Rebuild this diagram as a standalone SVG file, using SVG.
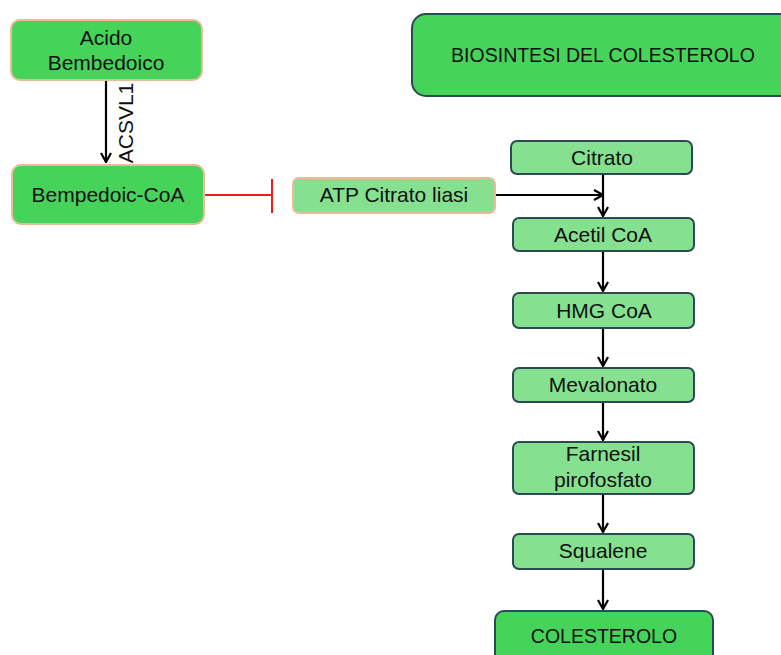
<svg xmlns="http://www.w3.org/2000/svg" width="781" height="655" viewBox="0 0 781 655">
<defs>
<style>
.t{font-family:"Liberation Sans",Arial,sans-serif;font-size:21px;fill:#111;text-anchor:middle}
.cap{font-size:19.5px}
.dk{fill:#46d35a;stroke:#f0b898;stroke-width:2}
.lt{fill:#85e08f;stroke:#2b4a52;stroke-width:2}
.lto{fill:#85e08f;stroke:#f0b898;stroke-width:2}
.dkb{fill:#46d35a;stroke:#2b4a52;stroke-width:2}
.c{stroke:#000;stroke-width:2.2;fill:none}
</style>
<marker id="ah" viewBox="0 0 12 12" refX="11" refY="6" markerWidth="12" markerHeight="12" orient="auto" markerUnits="userSpaceOnUse">
<path d="M2,1 L11,6 L2,11" fill="none" stroke="#000" stroke-width="2.2"/>
</marker>
</defs>
<rect width="781" height="655" fill="#fff"/>
<g id="connectors">
<line class="c" x1="106" y1="81" x2="106" y2="162" marker-end="url(#ah)"/>
<text class="t" transform="translate(133,123) rotate(-90)" font-size="17">ACSVL1</text>
<line x1="205" y1="195" x2="272" y2="195" stroke="#ee1c1c" stroke-width="2"/>
<line x1="272" y1="179" x2="272" y2="213" stroke="#ee1c1c" stroke-width="2"/>
<line class="c" x1="495" y1="195" x2="603" y2="195" marker-end="url(#ah)"/>
<line class="c" x1="603" y1="174" x2="603" y2="216" marker-end="url(#ah)"/>
<line class="c" x1="603" y1="252" x2="603" y2="291" marker-end="url(#ah)"/>
<line class="c" x1="603" y1="329" x2="603" y2="366" marker-end="url(#ah)"/>
<line class="c" x1="603" y1="403" x2="603" y2="440" marker-end="url(#ah)"/>
<line class="c" x1="603" y1="495" x2="603" y2="532" marker-end="url(#ah)"/>
<line class="c" x1="603" y1="570" x2="603" y2="609" marker-end="url(#ah)"/>
</g>
<g id="acido">
<rect class="dk" x="11" y="20" width="191" height="60" rx="9"/>
<text class="t" x="106" y="45">Acido</text>
<text class="t" x="106" y="70">Bembedoico</text>
</g>
<g id="bempedoic">
<rect class="dk" x="12" y="165" width="192" height="59" rx="9"/>
<text class="t" x="108" y="202">Bempedoic-CoA</text>
</g>
<g id="atp">
<rect class="lto" x="293" y="178" width="202" height="35" rx="6"/>
<text class="t" x="394" y="202">ATP Citrato liasi</text>
</g>
<g id="biosintesi">
<rect class="dkb" x="412" y="14" width="390" height="82" rx="14"/>
<text class="t cap" x="603" y="62">BIOSINTESI DEL COLESTEROLO</text>
</g>
<g id="citrato">
<rect class="lt" x="511" y="141" width="181" height="33" rx="6"/>
<text class="t" x="602" y="165">Citrato</text>
</g>
<g id="acetil">
<rect class="lt" x="513" y="218" width="181" height="33" rx="6"/>
<text class="t" x="603" y="242">Acetil CoA</text>
</g>
<g id="hmg">
<rect class="lt" x="513" y="293" width="181" height="35" rx="6"/>
<text class="t" x="604" y="318">HMG CoA</text>
</g>
<g id="mevalonato">
<rect class="lt" x="513" y="368" width="181" height="34" rx="6"/>
<text class="t" x="603" y="392">Mevalonato</text>
</g>
<g id="farnesil">
<rect class="lt" x="513" y="442" width="181" height="52" rx="6"/>
<text class="t" x="603" y="461">Farnesil</text>
<text class="t" x="603" y="487">pirofosfato</text>
</g>
<g id="squalene">
<rect class="lt" x="513" y="534" width="181" height="35" rx="6"/>
<text class="t" x="603" y="558">Squalene</text>
</g>
<g id="colesterolo">
<rect class="dkb" x="495" y="611" width="218" height="60" rx="9"/>
<text class="t cap" x="604" y="643">COLESTEROLO</text>
</g>
</svg>
